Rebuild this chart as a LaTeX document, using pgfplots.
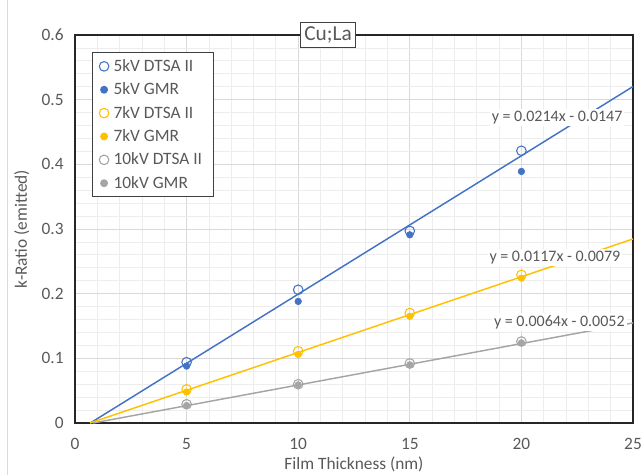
\documentclass[border=0pt]{standalone}
\usepackage{pgfplots}
\pgfplotsset{compat=1.18}
\usepackage{fontspec}
\setmainfont{Carlito}
\definecolor{c5}{HTML}{4472C4}
\definecolor{c7}{HTML}{FFC000}
\definecolor{c10}{HTML}{A5A5A5}
\definecolor{txt}{HTML}{595959}
\definecolor{gridmaj}{HTML}{D9D9D9}
\definecolor{gridmin}{HTML}{EDEDED}
\begin{document}
\begin{tikzpicture}[x=1pt,y=1pt]
\useasboundingbox (0,0) rectangle (483,356.25);
\draw[color=gridmaj, line width=0.75pt] (5.25,0) -- (5.25,356.25);
\begin{axis}[
  at={(56.25pt,39pt)}, anchor=south west,
  scale only axis, width=418.5pt, height=291pt,
  xmin=0, xmax=25, ymin=0, ymax=0.6,
  xtick={0,5,10,15,20,25},
  ytick={0,0.1,0.2,0.3,0.4,0.5,0.6},
  minor x tick num=4, minor y tick num=4,
  grid=both,
  major grid style={color=gridmaj, line width=0.75pt},
  minor grid style={color=gridmin, line width=0.6pt},
  major tick length=0pt, minor tick length=0pt,
  axis line style={color=black!85, line width=1.2pt},
  ticklabel style={font=\fontsize{13}{15}\selectfont, text=txt},
  /pgf/number format/assume math mode=true,
  yticklabel style={/pgf/number format/fixed, /pgf/number format/precision=1, xshift=-5pt},
  xticklabel style={yshift=-8pt},
  xlabel={Film Thickness (nm)},
  ylabel={k-Ratio (emitted)},
  label style={font=\fontsize{13}{15}\selectfont, text=txt},
  xlabel style={at={(rel axis cs:0.5,0)}, anchor=center, yshift=-31pt},
  ylabel style={at={(rel axis cs:0,0.5)}, anchor=center, yshift=40pt},
  legend style={at={(rel axis cs:0.0305,0.956)}, anchor=north west,
    draw=black!75, line width=0.9pt, fill=white,
    font=\fontsize{13}{16}\selectfont, text=txt,
    row sep=3pt, inner xsep=5pt, inner ysep=3pt,
    nodes={inner xsep=3.5pt}},
  legend cell align=left,
  clip=false,
]
% trendlines
\addplot[c5, line width=1.1pt, forget plot] coordinates {(0.687,0) (25,0.5203)};
\addplot[c7, line width=1.1pt, forget plot] coordinates {(0.675,0) (25,0.2846)};
\addplot[c10, line width=1.1pt, forget plot] coordinates {(0.8125,0) (25,0.1548)};
% data
\addplot[only marks, mark=o, mark size=3.6pt, mark options={draw=c5, line width=0.8pt}]
  coordinates {(5,0.094) (10,0.206) (15,0.297) (20,0.421)};
\addlegendentry{5kV DTSA II}
\addplot[only marks, mark=*, mark size=2.5pt, mark options={draw=c5, fill=c5}]
  coordinates {(5,0.088) (10,0.188) (15,0.291) (20,0.389)};
\addlegendentry{5kV GMR}
\addplot[only marks, mark=o, mark size=3.6pt, mark options={draw=c7, line width=0.8pt}]
  coordinates {(5,0.052) (10,0.111) (15,0.170) (20,0.229)};
\addlegendentry{7kV DTSA II}
\addplot[only marks, mark=*, mark size=2.5pt, mark options={draw=c7, fill=c7}]
  coordinates {(5,0.048) (10,0.106) (15,0.165) (20,0.224)};
\addlegendentry{7kV GMR}
\addplot[only marks, mark=o, mark size=3.6pt, mark options={draw=c10, line width=0.8pt}]
  coordinates {(5,0.029) (10,0.060) (15,0.092) (20,0.126)};
\addlegendentry{10kV DTSA II}
\addplot[only marks, mark=*, mark size=2.5pt, mark options={draw=c10, fill=c10}]
  coordinates {(5,0.027) (10,0.059) (15,0.090) (20,0.124)};
\addlegendentry{10kV GMR}
% trendline labels
\node[fill=white, inner sep=1.5pt, text=txt, font=\fontsize{12}{14}\selectfont] at (axis cs:21.6,0.472) {y = 0.0214x - 0.0147};
\node[fill=white, inner sep=1.5pt, text=txt, font=\fontsize{12}{14}\selectfont] at (axis cs:21.5,0.256) {y = 0.0117x - 0.0079};
\node[fill=white, inner sep=1.5pt, text=txt, font=\fontsize{12}{14}\selectfont] at (axis cs:21.7,0.156) {y = 0.0064x - 0.0052};
% title
\node[fill=white, draw=black!75, line width=0.9pt, text=txt, font=\fontsize{16}{18}\selectfont, inner xsep=3pt, inner ysep=3pt] at (rel axis cs:0.4534,1) {Cu;La};
\end{axis}
\end{tikzpicture}
\end{document}
